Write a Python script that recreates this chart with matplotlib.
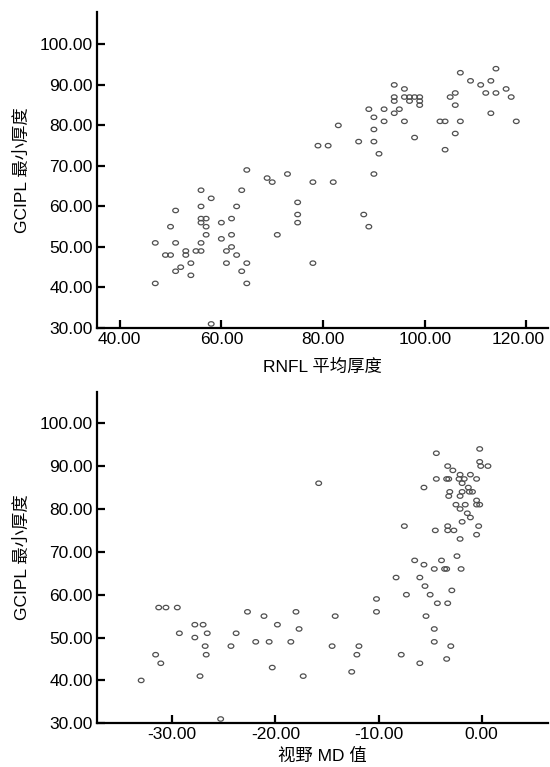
"""Two scatter plots: GCIPL minimum thickness vs RNFL mean thickness and vs visual field MD."""

import matplotlib
matplotlib.use("Agg")
import matplotlib.pyplot as plt
from matplotlib.path import Path
from matplotlib.ticker import FormatStrFormatter
from matplotlib.transforms import Affine2D, ScaledTranslation

plt.rcParams["font.family"] = ["Liberation Sans", "Noto Sans CJK SC", "DejaVu Sans"]
plt.rcParams["axes.unicode_minus"] = False

# --- data: top panel ---
rnfl = [47, 47, 49, 50, 50, 51, 51, 51, 52, 53, 53, 54, 54, 55, 56, 56, 56, 56, 56, 56,
        57, 57, 57, 58, 58, 60, 60, 61, 61, 62, 62, 62, 63, 63, 64, 64, 65, 65, 65, 69,
        70, 71, 73, 75, 75, 75, 78, 78, 79,
        81, 82, 83, 87, 88, 89, 89, 90, 90, 90, 90, 91, 92, 92, 94, 94, 94, 94, 95, 96,
        96, 96, 97, 97, 98, 98, 99, 99, 99, 103, 104, 104, 105, 106, 106, 106, 107, 107,
        109, 111, 112, 113, 113, 114, 114, 116, 117, 118]
gcipl_top = [51, 41, 48, 48, 55, 59, 51, 44, 45, 49, 48, 46, 43, 49, 49, 51, 56, 57, 60, 64,
             57, 55, 53, 62, 31, 56, 52, 49, 46, 57, 53, 50, 60, 48, 64, 44, 69, 46, 41, 67,
             66, 53, 68, 61, 58, 56, 66, 46, 75,
             75, 66, 80, 76, 58, 84, 55, 82, 79, 76, 68, 73, 84, 81, 90, 87, 86, 83, 84, 89,
             87, 81, 87, 86, 87, 77, 87, 86, 85, 81, 81, 74, 87, 88, 85, 78, 93, 81,
             91, 90, 88, 91, 83, 94, 88, 89, 87, 81]

# --- data: bottom panel ---
md = [-33.0, -31.6, -31.1, -31.3, -30.6, -29.5, -29.3, -27.8, -27.8, -27.0, -26.6, -26.8,
      -26.7, -27.3, -25.3, -24.3, -23.8, -22.7, -21.9, -21.1, -20.6, -20.3, -19.8, -18.5,
      -18.0, -17.7, -17.3, -15.8,
      -14.5, -14.2, -12.6, -12.1, -11.9, -10.2, -10.2, -8.3, -7.8, -7.5, -7.3, -6.5,
      -6.0, -6.0, -5.6, -5.5, -5.4, -5.0, -5.6, -4.6, -4.6, -4.6, -4.5, -4.4, -4.4, -4.3,
      -3.9, -3.6, -3.4, -3.4, -3.3, -3.4, -3.2, -3.3, -3.1, -3.2, -3.3, -3.3, -3.0, -2.9,
      -2.8, -2.7, -2.5, -2.4, -2.2, -2.1, -2.1, -2.0, -2.1, -2.1, -1.9, -1.9, -1.9, -1.7,
      -1.6, -1.4, -1.3, -1.2, -1.1, -1.1, -0.9, -0.5, -0.5, -0.5, -0.5, -0.3, -0.2, -0.2,
      -0.2, -0.1, 0.6]
gcipl_bot = [40, 46, 44, 57, 57, 57, 51, 53, 50, 53, 51, 48, 46, 41, 31, 48, 51, 56, 49, 55,
             49, 43, 53, 49, 56, 52, 41, 86,
             48, 55, 42, 46, 48, 56, 59, 64, 46, 76, 60, 68, 64, 44, 67, 62, 55, 60, 85, 52,
             49, 66, 75, 93, 87, 58, 68, 66, 66, 45, 58, 87, 87, 90, 84, 83, 76, 75, 48, 61,
             89, 75, 81, 69, 87, 88, 83, 66, 73, 80, 86, 84, 77, 87, 81, 79, 85, 84, 78, 88,
             84, 87, 82, 81, 74, 76, 81, 94, 91, 90, 90]

top_xticks = [40, 60, 80, 100, 120]
bot_xticks = [-30, -20, -10, 0]
yticks = [30, 40, 50, 60, 70, 80, 90, 100]

# slightly flattened open circle, like the SPSS output
ellipse = Path.unit_circle().transformed(Affine2D().scale(1.3, 1.0))

fig = plt.figure(figsize=(5.5, 7.67), dpi=100)
ax1 = fig.add_axes([0.176, 0.5724, 0.82, 0.412])
ax2 = fig.add_axes([0.176, 0.057, 0.82, 0.432])


def style(ax, xticks, xlabel, labelpad):
    for side in ("top", "right"):
        ax.spines[side].set_visible(False)
    for side in ("left", "bottom"):
        ax.spines[side].set_linewidth(1.6)
    ax.set_xticks(xticks)
    ax.set_yticks(yticks)
    ax.xaxis.set_major_formatter(FormatStrFormatter("%.2f"))
    ax.yaxis.set_major_formatter(FormatStrFormatter("%.2f"))
    ax.tick_params(direction="in", length=6, width=1.6, labelsize=12.5, pad=3)
    ax.set_xlabel(xlabel, fontsize=12.5, labelpad=labelpad)
    ax.set_ylabel("GCIPL 最小厚度", fontsize=12.5, labelpad=7)


ax1.scatter(rnfl, gcipl_top, marker=ellipse, s=17, facecolors="none",
            edgecolors="#505050", linewidths=0.9)
ax1.set_xlim(35.5, 124.2)
ax1.set_ylim(30, 108)
style(ax1, top_xticks, "RNFL 平均厚度", 8)

ax2.scatter(md, gcipl_bot, marker=ellipse, s=17, facecolors="none",
            edgecolors="#505050", linewidths=0.9)
ax2.set_xlim(-37.3, 6.4)
ax2.set_ylim(30, 107.3)
style(ax2, bot_xticks, "视野 MD 值", 4)

# last tick label sits against the right edge, nudge it left like the original
fig.canvas.draw()
last = ax1.get_xticklabels()[-1]
last.set_transform(last.get_transform() + ScaledTranslation(-8 / 100, 0, fig.dpi_scale_trans))

plt.savefig("out.png", dpi=100)
